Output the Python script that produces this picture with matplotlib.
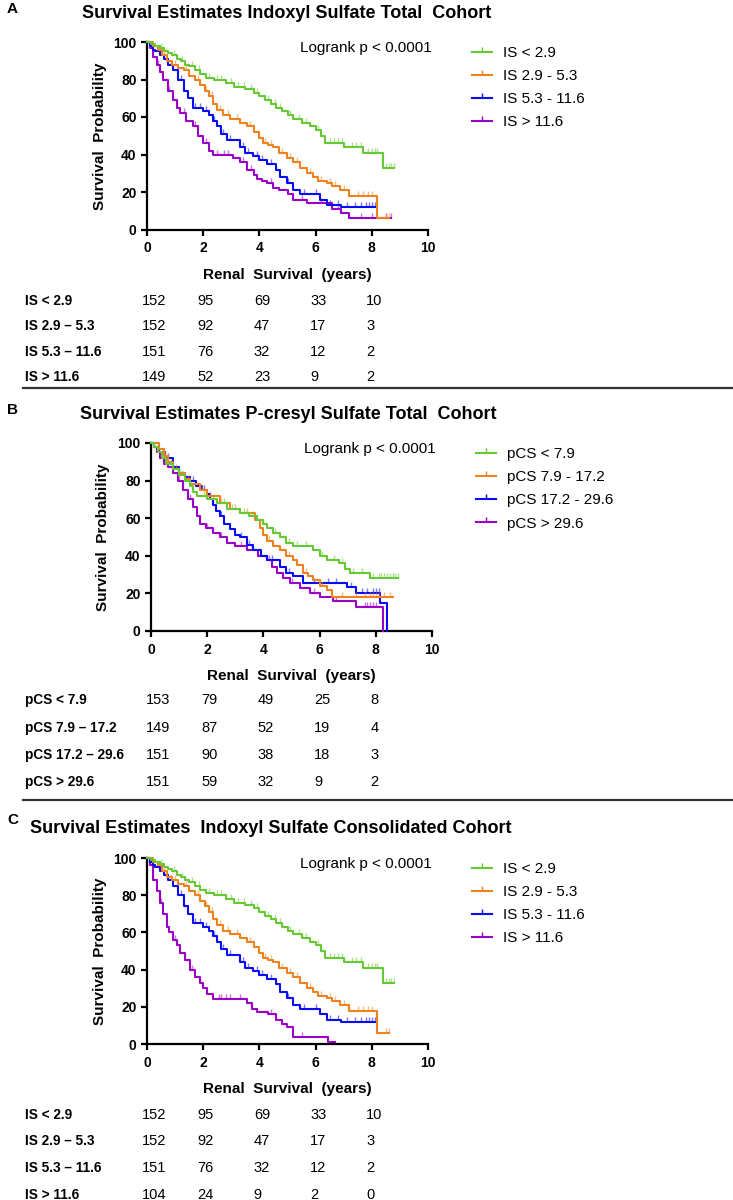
import numpy as np
import matplotlib
matplotlib.use('Agg')
import matplotlib.pyplot as plt
from matplotlib.lines import Line2D
from matplotlib.path import Path
import matplotlib.transforms as mtransforms

plt.rcParams['font.family'] = ['Liberation Sans', 'DejaVu Sans']

# ---------------- data ----------------
risk_times = [0, 2, 4, 6, 8]

# Indoxyl sulfate (total cohort) curves
is1_t = [0, 0.15, 0.3, 0.45, 0.6, 0.75, 0.9, 1.05, 1.2, 1.35, 1.5, 1.7, 1.9, 2.1, 2.4, 2.8, 3.1, 3.5, 3.8,
         4.0, 4.2, 4.4, 4.6, 4.8, 5.0, 5.2, 5.5, 5.8, 6.0, 6.2, 6.33, 7.0, 7.7, 8.4]
is1_s = [100, 99, 98, 97, 95, 94, 93, 91, 90, 88, 87, 85, 83, 81, 80, 78, 76, 75, 73,
         71, 69, 67, 65, 63, 61, 59, 57, 55, 53, 50, 46, 44, 41, 33]
is1_end = 8.8
is1_cens = [0.5, 0.95, 1.25, 1.6, 1.85, 2.2, 2.5, 2.65, 3.0, 3.25, 3.45, 3.7, 3.9, 4.3, 4.55, 4.75, 5.1, 5.4,
            5.65, 6.1, 6.5, 6.65, 6.8, 6.95, 7.3, 7.45, 7.6, 7.85, 8.0, 8.1, 8.2, 8.5, 8.6, 8.7, 8.8]

is2_t = [0, 0.2, 0.4, 0.55, 0.7, 0.9, 1.1, 1.3, 1.5, 1.7, 1.9, 2.05, 2.2, 2.35, 2.5, 2.7, 2.95, 3.3, 3.56,
         3.8, 4.0, 4.13, 4.3, 4.5, 4.7, 4.98, 5.2, 5.45, 5.7, 5.9, 6.1, 6.4, 6.6, 6.87, 7.2, 8.2]
is2_s = [100, 98, 96, 93, 90, 88, 86, 85, 82, 80, 77, 74, 71, 67, 64, 61, 59, 57, 55,
         52, 49, 46, 45, 44, 41, 38, 36, 33, 30, 28, 26, 25, 23, 21, 18, 6]
is2_end = 8.6
is2_cens = [0.6, 1.0, 1.4, 1.8, 2.1, 2.3, 2.6, 2.9, 3.2, 3.65, 4.2, 4.4, 4.8, 5.1, 5.35, 5.8, 6.2, 6.5,
            6.7, 7.0, 7.5, 7.7, 7.85, 8.0, 8.5, 8.6]

is3_t = [0, 0.1, 0.2, 0.3, 0.46, 0.6, 0.75, 0.93, 1.1, 1.3, 1.45, 1.64, 2.0, 2.2, 2.35, 2.5, 2.65, 2.84,
         3.3, 3.5, 3.77, 4.0, 4.27, 4.6, 4.75, 4.98, 5.2, 5.45, 6.16, 6.4, 6.9]
is3_s = [100, 98, 96, 95, 93, 91, 88, 85, 80, 74, 70, 65, 63, 61, 58, 55, 51, 48,
         44, 41, 39, 37, 35, 32, 28, 25, 21, 19, 16, 13, 12]
is3_end = 8.1
is3_cens = [0.5, 0.85, 1.2, 1.7, 1.9, 2.1, 2.4, 2.7, 2.95, 3.4, 3.6, 3.9, 4.1, 4.4, 5.0, 5.6, 6.0, 6.5,
            6.8, 7.1, 7.4, 7.6, 7.8, 7.9, 8.0, 8.1]

is4_t = [0, 0.1, 0.23, 0.35, 0.48, 0.58, 0.75, 0.93, 1.05, 1.18, 1.4, 1.64, 1.8, 2.0, 2.2, 2.35, 3.06,
         3.3, 3.56, 3.8, 3.9, 4.1, 4.27, 4.5, 4.7, 5.0, 5.2, 5.7, 6.6, 6.9, 7.2]
is4_s = [100, 97, 92, 88, 84, 80, 74, 69, 65, 62, 58, 55, 50, 46, 42, 40, 38,
         36, 32, 29, 27, 26, 25, 22, 21, 19, 16, 14, 11, 9, 6]
is4_end = 8.7
is4_cens = [0.4, 0.8, 1.3, 1.7, 2.1, 2.5, 2.75, 2.9, 3.4, 3.7, 4.4, 5.5, 6.2, 6.8, 7.6, 8.0, 8.5, 8.7]

# Indoxyl sulfate > 11.6, consolidated cohort
is4c_t = [0, 0.1, 0.21, 0.35, 0.46, 0.58, 0.7, 0.8, 0.93, 1.05, 1.17, 1.35, 1.53, 1.7, 1.89, 2.0, 2.13,
          2.35, 3.56, 3.75, 3.9, 4.3, 4.6, 4.8, 4.98, 5.2, 6.45]
is4c_s = [100, 96, 88, 82, 76, 70, 63, 60, 56, 53, 49, 45, 40, 36, 33, 30, 27,
          24, 22, 19, 17, 16, 13, 11, 9, 4, 1]
is4c_end = 6.7
is4c_cens = [0.5, 1.0, 1.6, 2.55, 2.65, 2.8, 2.95, 3.3, 4.4, 5.5]

# p-cresyl sulfate curves
pcs1_t = [0, 0.1, 0.25, 0.4, 0.55, 0.78, 1.0, 1.2, 1.39, 1.5, 1.64, 2.0, 2.35, 2.7, 3.17, 3.5, 3.77,
          4.0, 4.13, 4.35, 4.6, 4.8, 5.05, 5.77, 6.0, 6.26, 6.7, 6.9, 7.08, 7.8]
pcs1_s = [100, 98, 95, 92, 89, 86, 83, 80, 77, 74, 72, 70, 68, 65, 63, 61, 59,
          57, 55, 52, 50, 47, 45, 43, 40, 38, 36, 33, 31, 28]
pcs1_end = 8.8
pcs1_cens = [0.4, 0.7, 1.1, 1.5, 1.9, 2.2, 2.6, 2.9, 3.3, 3.6, 4.0, 4.4, 4.9, 5.2, 5.5, 6.1, 6.5, 6.8,
             7.2, 7.5, 7.9, 8.1, 8.2, 8.3, 8.4, 8.5, 8.6, 8.7, 8.8]

pcs2_t = [0, 0.3, 0.45, 0.6, 0.8, 1.0, 1.2, 1.4, 1.74, 2.0, 2.45, 2.8, 3.17, 3.7, 3.88, 4.0, 4.13,
          4.35, 4.6, 4.8, 5.05, 5.2, 5.4, 5.6, 5.77, 6.0, 6.26, 6.44]
pcs2_s = [100, 97, 93, 90, 86, 84, 81, 78, 75, 72, 68, 65, 63, 59, 55, 51, 48,
          45, 43, 40, 38, 35, 31, 29, 27, 24, 22, 18]
pcs2_end = 8.6
pcs2_cens = [0.5, 0.9, 1.3, 1.8, 2.1, 2.5, 3.0, 3.4, 4.2, 4.9, 5.5, 6.1, 6.8, 7.3, 7.6, 7.8, 7.9,
             8.0, 8.1, 8.3, 8.5]

pcs3_t = [0, 0.1, 0.3, 0.5, 0.8, 1.0, 1.2, 1.39, 1.6, 1.8, 1.99, 2.1, 2.2, 2.3, 2.45, 2.6, 2.81, 3.0,
          3.17, 3.4, 3.63, 3.9, 4.13, 4.6, 4.8, 5.05, 5.4, 6.97, 7.3, 8.15, 8.4]
pcs3_s = [100, 98, 95, 92, 87, 84, 82, 80, 77, 75, 73, 70, 67, 64, 61, 57, 54, 51,
          50, 46, 43, 40, 38, 34, 31, 29, 25.5, 23.4, 20, 15, 0]
pcs3_end = 8.4
pcs3_cens = [0.6, 1.0, 1.5, 1.9, 2.5, 3.2, 3.5, 4.3, 4.9, 5.8, 6.3, 6.6, 7.1, 7.5, 7.7, 7.9, 8.0, 8.1]

pcs4_t = [0, 0.1, 0.2, 0.32, 0.45, 0.6, 0.78, 0.95, 1.14, 1.3, 1.5, 1.62, 1.74, 1.95, 2.2, 2.45, 2.7,
          3.0, 3.4, 3.8, 4.13, 4.3, 4.48, 4.7, 4.95, 5.3, 5.66, 6.0, 6.48, 7.3, 8.26]
pcs4_s = [100, 98, 95, 92, 89, 87, 84, 80, 75, 70, 66, 61, 57, 55, 52, 50, 47,
          45, 43, 40, 38, 34, 31, 28, 25.5, 23, 20, 18, 16, 13, 0]
pcs4_end = 8.26
pcs4_cens = [0.5, 1.0, 1.4, 2.0, 2.5, 3.2, 3.6, 4.2, 5.0, 5.8, 6.6, 7.6, 7.7, 7.8, 7.9, 8.0]

# legends / risk tables
is_legend = ['IS < 2.9', 'IS 2.9 - 5.3', 'IS 5.3 - 11.6', 'IS > 11.6']
is_table_labels = ['IS < 2.9', 'IS 2.9 \u2013 5.3', 'IS 5.3 \u2013 11.6', 'IS > 11.6']
pcs_legend = ['pCS < 7.9', 'pCS 7.9 - 17.2', 'pCS 17.2 - 29.6', 'pCS > 29.6']
pcs_table_labels = ['pCS < 7.9', 'pCS 7.9 \u2013 17.2', 'pCS 17.2 \u2013 29.6', 'pCS > 29.6']

risk_is_total = [[152, 95, 69, 33, 10], [152, 92, 47, 17, 3], [151, 76, 32, 12, 2], [149, 52, 23, 9, 2]]
risk_pcs_total = [[153, 79, 49, 25, 8], [149, 87, 52, 19, 4], [151, 90, 38, 18, 3], [151, 59, 32, 9, 2]]
risk_is_cons = [[152, 95, 69, 33, 10], [152, 92, 47, 17, 3], [151, 76, 32, 12, 2], [104, 24, 9, 2, 0]]

titles = ['Survival Estimates Indoxyl Sulfate Total  Cohort',
          'Survival Estimates P-cresyl Sulfate Total  Cohort',
          'Survival Estimates  Indoxyl Sulfate Consolidated Cohort']
pvalue_text = 'Logrank p < 0.0001'

colors = ['#66C832', '#F0821E', '#0A0AF5', '#9A00C8']

# ---------------- layout ----------------
W, H = 733, 1200
fig = plt.figure(figsize=(W / 100, H / 100), dpi=100)


def fx(px):
    return px / W


def fy(py):
    return 1 - py / H


tick_marker = Path([[0, 0], [0, 1]])


def cap_text(x_px, y_px, s, size, weight='normal', ha='left'):
    # place text so that its cap height centre sits at y_px
    base = y_px + 0.358 * size * 100 / 72
    fig.text(fx(x_px), fy(base), s, fontsize=size, fontweight=weight, ha=ha, va='baseline')


def draw_curve(ax, t, s, t_end, color, cens, z):
    x = list(t) + [t_end]
    y = list(s) + [s[-1]]
    ax.step(x, y, where='post', color=color, lw=1.5, clip_on=False, zorder=z)
    t_arr = np.array(t)
    idx = np.searchsorted(t_arr, np.array(cens), side='right') - 1
    ax.plot(cens, np.array(s)[idx], ls='none', marker=tick_marker, ms=7, mew=1.0,
            color=color, alpha=0.55, clip_on=False, zorder=z)


def panel(letter, title, letter_y, title_y, title_cx, ax_left, ax_top, ax_bottom, curves,
          legend_labels, table_labels, risk, rows_y, ylab_x, sep_y=None):
    ax_right = ax_left + 281
    ax = fig.add_axes([fx(ax_left), fy(ax_bottom), (ax_right - ax_left) / W, (ax_bottom - ax_top) / H])
    cap_text(7, letter_y, letter, 11, 'bold')
    cap_text(title_cx, title_y, title, 13, 'bold', ha='center')
    order = [3, 2, 1, 0]
    for i in order:
        t, s, te, ce = curves[i]
        draw_curve(ax, t, s, te, colors[i], ce, 3 + (3 - i))
    ax.set_xlim(0, 10)
    ax.set_ylim(0, 100)
    ax.set_xticks([0, 2, 4, 6, 8, 10])
    ax.set_yticks([0, 20, 40, 60, 80, 100])
    for sp in ['top', 'right']:
        ax.spines[sp].set_visible(False)
    for sp in ['left', 'bottom']:
        ax.spines[sp].set_linewidth(1.6)
    ax.tick_params(direction='out', length=4.5, width=1.6, labelsize=10, pad=3)
    ax.tick_params(axis='x', pad=4)
    for lab in ax.get_xticklabels() + ax.get_yticklabels():
        lab.set_fontweight('bold')
    ax.set_xlabel('Renal  Survival  (years)', fontsize=11, fontweight='bold')
    ax.xaxis.set_label_coords(0.5, -(45.0) / (ax_bottom - ax_top))
    ax.xaxis.label.set_va('center')
    ax.set_ylabel('Survival  Probability', fontsize=11, fontweight='bold')
    ax.yaxis.set_label_coords((ylab_x - ax_left) / 281.0, 0.5)
    ax.yaxis.label.set_va('center')
    ax.patch.set_alpha(0)

    # logrank
    cap_text(ax_left + 153, ax_top + 4.5, pvalue_text, 11)

    # legend
    handles = [Line2D([0], [0], color=colors[i], lw=1.5, marker=tick_marker, ms=7, mew=1.0)
               for i in range(4)]
    ax.legend(handles, legend_labels, loc='upper left',
              bbox_to_anchor=(fx(ax_left + 325), fy(ax_top + 4)), bbox_transform=fig.transFigure,
              frameon=False, fontsize=11, handlelength=1.3, handletextpad=0.75,
              labelspacing=0.6, borderpad=0, borderaxespad=0, numpoints=1)

    # risk table
    blend = mtransforms.blended_transform_factory(ax.transData, fig.transFigure)
    num_fs = 10.5
    fs_px = num_fs * 100 / 72
    for r, (lab, row) in enumerate(zip(table_labels, risk)):
        cap_text(25, rows_y[r], lab, 9.8, 'bold')
        base = rows_y[r] + 0.358 * fs_px
        for tt, n in zip(risk_times, row):
            ax.text(tt - 0.2, fy(base), str(n), transform=blend, fontsize=num_fs, ha='left',
                    va='baseline', clip_on=False)
    if sep_y is not None:
        fig.add_artist(Line2D([fx(23), 1.0], [fy(sep_y), fy(sep_y)], color='#333333', lw=1.6))
    return ax


is_curves = [(is1_t, is1_s, is1_end, is1_cens), (is2_t, is2_s, is2_end, is2_cens),
             (is3_t, is3_s, is3_end, is3_cens), (is4_t, is4_s, is4_end, is4_cens)]
pcs_curves = [(pcs1_t, pcs1_s, pcs1_end, pcs1_cens), (pcs2_t, pcs2_s, pcs2_end, pcs2_cens),
              (pcs3_t, pcs3_s, pcs3_end, pcs3_cens), (pcs4_t, pcs4_s, pcs4_end, pcs4_cens)]
isc_curves = is_curves[:3] + [(is4c_t, is4c_s, is4c_end, is4c_cens)]

panel('A', titles[0], 8, 12, 287, 147, 42, 229.5, is_curves, is_legend, is_table_labels,
      risk_is_total, [300, 325, 351, 376], 100, sep_y=388)
panel('B', titles[1], 409, 413, 288, 151, 443, 631, pcs_curves, pcs_legend, pcs_table_labels,
      risk_pcs_total, [699, 727, 754, 781], 103, sep_y=800)
panel('C', titles[2], 819, 827, 271, 147, 858, 1044, isc_curves, is_legend, is_table_labels,
      risk_is_cons, [1114, 1140, 1167, 1194], 100)

fig.savefig('out.png', dpi=100)
